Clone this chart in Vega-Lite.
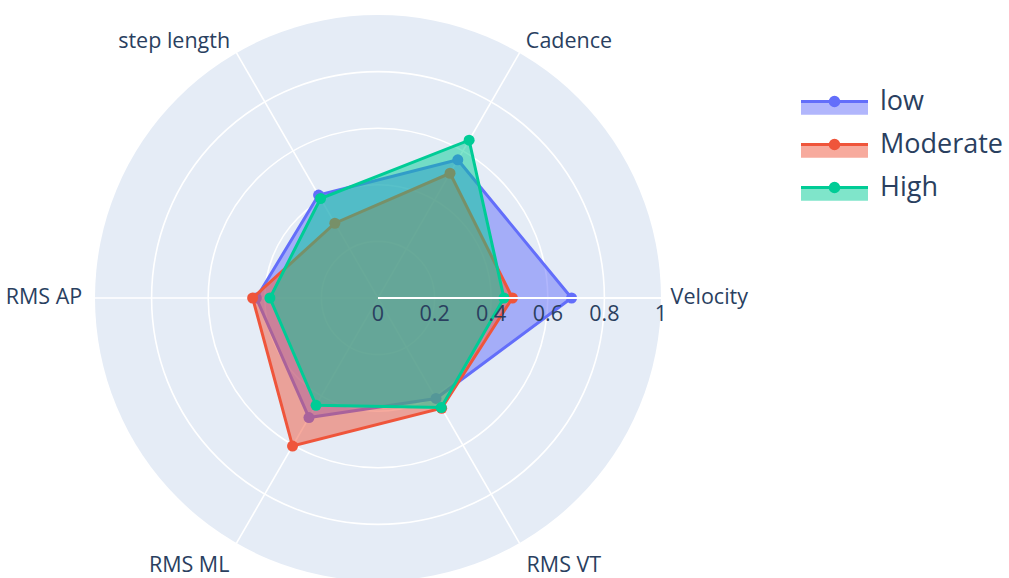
{
"$schema": "https://vega.github.io/schema/vega-lite/v6.json",
"width": 1009, "height": 578, "autosize": {"type": "none"}, "padding": 0,
"background": "white",
"config": {"view": {"stroke": null}, "font": "Open Sans"},
"datasets": {
 "series": [
  {"level": "low", "axis": "Velocity", "idx": 0, "value": 0.684},
  {"level": "low", "axis": "Cadence", "idx": 1, "value": 0.564},
  {"level": "low", "axis": "step length", "idx": 2, "value": 0.42},
  {"level": "low", "axis": "RMS AP", "idx": 3, "value": 0.43},
  {"level": "low", "axis": "RMS ML", "idx": 4, "value": 0.488},
  {"level": "low", "axis": "RMS VT", "idx": 5, "value": 0.41},
  {"level": "Moderate", "axis": "Velocity", "idx": 0, "value": 0.475},
  {"level": "Moderate", "axis": "Cadence", "idx": 1, "value": 0.509},
  {"level": "Moderate", "axis": "step length", "idx": 2, "value": 0.305},
  {"level": "Moderate", "axis": "RMS AP", "idx": 3, "value": 0.443},
  {"level": "Moderate", "axis": "RMS ML", "idx": 4, "value": 0.604},
  {"level": "Moderate", "axis": "RMS VT", "idx": 5, "value": 0.45},
  {"level": "High", "axis": "Velocity", "idx": 0, "value": 0.445},
  {"level": "High", "axis": "Cadence", "idx": 1, "value": 0.644},
  {"level": "High", "axis": "step length", "idx": 2, "value": 0.406},
  {"level": "High", "axis": "RMS AP", "idx": 3, "value": 0.382},
  {"level": "High", "axis": "RMS ML", "idx": 4, "value": 0.438},
  {"level": "High", "axis": "RMS VT", "idx": 5, "value": 0.447}
 ],
 "axes": [
  {"axis": "Velocity", "idx": 0}, {"axis": "Cadence", "idx": 1}, {"axis": "step length", "idx": 2},
  {"axis": "RMS AP", "idx": 3}, {"axis": "RMS ML", "idx": 4}, {"axis": "RMS VT", "idx": 5}
 ],
 "rings": [{"r": 0.2}, {"r": 0.4}, {"r": 0.6}, {"r": 0.8}],
 "disk": [{"r": 1}],
 "ticks": [{"t": 0}, {"t": 0.2}, {"t": 0.4}, {"t": 0.6}, {"t": 0.8}, {"t": 1}]
},
"layer": [
 {"data": {"name": "disk"},
  "mark": {"type": "point", "shape": "circle", "filled": true, "fill": "#E5ECF6", "opacity": 1, "strokeWidth": 0},
  "encoding": {
   "x": {"datum": 0, "type": "quantitative", "scale": {"domain": [-1.3357, 2.2297], "nice": false, "zero": false}, "axis": null},
   "y": {"datum": 0, "type": "quantitative", "scale": {"domain": [-0.9894, 1.053], "nice": false, "zero": false}, "axis": null},
   "size": {"field": "r", "type": "quantitative", "scale": {"type": "pow", "exponent": 2, "domain": [0, 1], "range": [0, 320356]}, "legend": null}
  }},
 {"data": {"name": "rings"},
  "mark": {"type": "point", "shape": "circle", "filled": false, "stroke": "white", "strokeWidth": 1.6, "opacity": 1},
  "encoding": {
   "x": {"datum": 0, "type": "quantitative", "scale": {"domain": [-1.3357, 2.2297], "nice": false, "zero": false}, "axis": null},
   "y": {"datum": 0, "type": "quantitative", "scale": {"domain": [-0.9894, 1.053], "nice": false, "zero": false}, "axis": null},
   "size": {"field": "r", "type": "quantitative", "scale": {"type": "pow", "exponent": 2, "domain": [0, 1], "range": [0, 320356]}, "legend": null}
  }},
 {"data": {"name": "axes"},
  "transform": [{"calculate": "cos(datum.idx*PI/3)", "as": "ex"}, {"calculate": "sin(datum.idx*PI/3)", "as": "ey"}],
  "mark": {"type": "rule", "stroke": "white", "strokeWidth": 1.6},
  "encoding": {
   "x": {"field": "ex", "type": "quantitative", "scale": {"domain": [-1.3357, 2.2297], "nice": false, "zero": false}, "axis": null},
   "y": {"field": "ey", "type": "quantitative", "scale": {"domain": [-0.9894, 1.053], "nice": false, "zero": false}, "axis": null},
   "x2": {"datum": 0}, "y2": {"datum": 0}
  }},
 {"data": {"name": "axes"},
  "transform": [{"filter": "datum.idx <= 1"}, {"calculate": "datum.idx == 0 ? 1.034 : 1.045", "as": "lr"}, {"calculate": "datum.lr*cos(datum.idx*PI/3)", "as": "lx"}, {"calculate": "datum.lr*sin(datum.idx*PI/3)", "as": "ly"}],
  "mark": {"type": "text", "align": "left", "baseline": "middle", "fontSize": 21.5, "color": "#2a3f5f", "font": "Open Sans"},
  "encoding": {
   "x": {"field": "lx", "type": "quantitative", "scale": {"domain": [-1.3357, 2.2297], "nice": false, "zero": false}, "axis": null},
   "y": {"field": "ly", "type": "quantitative", "scale": {"domain": [-0.9894, 1.053], "nice": false, "zero": false}, "axis": null},
   "text": {"field": "axis", "type": "nominal"}
  }},
 {"data": {"name": "axes"},
  "transform": [{"filter": "datum.idx == 2 || datum.idx == 3"}, {"calculate": "1.045*cos(datum.idx*PI/3)", "as": "lx"}, {"calculate": "1.045*sin(datum.idx*PI/3)", "as": "ly"}],
  "mark": {"type": "text", "align": "right", "baseline": "middle", "fontSize": 21.5, "color": "#2a3f5f", "font": "Open Sans"},
  "encoding": {
   "x": {"field": "lx", "type": "quantitative", "scale": {"domain": [-1.3357, 2.2297], "nice": false, "zero": false}, "axis": null},
   "y": {"field": "ly", "type": "quantitative", "scale": {"domain": [-0.9894, 1.053], "nice": false, "zero": false}, "axis": null},
   "text": {"field": "axis", "type": "nominal"}
  }},
 {"data": {"name": "axes"},
  "transform": [{"filter": "datum.idx == 4"}, {"calculate": "1.05*cos(datum.idx*PI/3)", "as": "lx"}, {"calculate": "1.05*sin(datum.idx*PI/3)", "as": "ly"}],
  "mark": {"type": "text", "align": "right", "baseline": "top", "fontSize": 21.5, "color": "#2a3f5f", "font": "Open Sans"},
  "encoding": {
   "x": {"field": "lx", "type": "quantitative", "scale": {"domain": [-1.3357, 2.2297], "nice": false, "zero": false}, "axis": null},
   "y": {"field": "ly", "type": "quantitative", "scale": {"domain": [-0.9894, 1.053], "nice": false, "zero": false}, "axis": null},
   "text": {"field": "axis", "type": "nominal"}
  }},
 {"data": {"name": "axes"},
  "transform": [{"filter": "datum.idx == 5"}, {"calculate": "1.05*cos(datum.idx*PI/3)", "as": "lx"}, {"calculate": "1.05*sin(datum.idx*PI/3)", "as": "ly"}],
  "mark": {"type": "text", "align": "left", "baseline": "top", "fontSize": 21.5, "color": "#2a3f5f", "font": "Open Sans"},
  "encoding": {
   "x": {"field": "lx", "type": "quantitative", "scale": {"domain": [-1.3357, 2.2297], "nice": false, "zero": false}, "axis": null},
   "y": {"field": "ly", "type": "quantitative", "scale": {"domain": [-0.9894, 1.053], "nice": false, "zero": false}, "axis": null},
   "text": {"field": "axis", "type": "nominal"}
  }},
 {"data": {"name": "series"},
  "transform": [{"filter": "datum.level == 'low'"}, {"calculate": "datum.value*cos(datum.idx*PI/3)", "as": "px"}, {"calculate": "datum.value*sin(datum.idx*PI/3)", "as": "py"}],
  "mark": {"type": "line", "interpolate": "linear-closed", "strokeWidth": 3},
  "encoding": {
   "x": {"field": "px", "type": "quantitative", "scale": {"domain": [-1.3357, 2.2297], "nice": false, "zero": false}, "axis": null},
   "y": {"field": "py", "type": "quantitative", "scale": {"domain": [-0.9894, 1.053], "nice": false, "zero": false}, "axis": null},
   "order": {"field": "idx", "type": "quantitative"},
   "fill": {"field": "level", "type": "nominal", "scale": {"domain": ["low", "Moderate", "High"], "range": ["rgba(99,110,250,0.5)", "rgba(239,85,59,0.5)", "rgba(0,204,150,0.5)"]},
     "legend": {"title": null, "orient": "none", "legendX": 818, "legendY": 85, "direction": "vertical", "symbolType": "M-2.233,0H2.233V0.887H-2.233Z", "symbolSize": 900, "symbolStrokeColor": "transparent", "symbolStrokeWidth": 3, "labelFontSize": 27, "labelColor": "#2a3f5f", "labelFont": "Open Sans", "labelOffset": 29, "labelExpr": "''", "rowPadding": 7, "padding": 0}},
   "stroke": {"field": "level", "type": "nominal", "sort": ["low", "Moderate", "High"], "scale": {"range": ["#636EFA", "#EF553B", "#00CC96"]},
     "legend": {"title": null, "orient": "none", "legendX": 818, "legendY": 85, "direction": "vertical", "symbolType": "M-2.233,0.887M-2.233,0H2.233M0.287,0A0.287,0.287,0,1,1,-0.287,0A0.287,0.287,0,1,1,0.287,0M0.1,0A0.1,0.1,0,1,1,-0.1,0A0.1,0.1,0,1,1,0.1,0", "symbolSize": 900, "symbolStrokeWidth": 3, "symbolOpacity": 1, "labelFontSize": 27, "labelColor": "#2a3f5f", "labelFont": "Open Sans", "labelOffset": 29, "rowPadding": 7, "padding": 0}}
  }},
 {"data": {"name": "series"},
  "transform": [{"filter": "datum.level == 'low'"}, {"calculate": "datum.value*cos(datum.idx*PI/3)", "as": "px"}, {"calculate": "datum.value*sin(datum.idx*PI/3)", "as": "py"}],
  "mark": {"type": "point", "shape": "circle", "filled": true, "opacity": 1, "size": 121, "strokeWidth": 0},
  "encoding": {
   "x": {"field": "px", "type": "quantitative", "scale": {"domain": [-1.3357, 2.2297], "nice": false, "zero": false}, "axis": null},
   "y": {"field": "py", "type": "quantitative", "scale": {"domain": [-0.9894, 1.053], "nice": false, "zero": false}, "axis": null},
   "color": {"field": "level", "type": "nominal", "scale": {"domain": ["low", "Moderate", "High"], "range": ["#636EFA", "#EF553B", "#00CC96"]}, "legend": null}
  }},
 {"data": {"name": "series"},
  "transform": [{"filter": "datum.level == 'Moderate'"}, {"calculate": "datum.value*cos(datum.idx*PI/3)", "as": "px"}, {"calculate": "datum.value*sin(datum.idx*PI/3)", "as": "py"}],
  "mark": {"type": "line", "interpolate": "linear-closed", "strokeWidth": 3},
  "encoding": {
   "x": {"field": "px", "type": "quantitative", "scale": {"domain": [-1.3357, 2.2297], "nice": false, "zero": false}, "axis": null},
   "y": {"field": "py", "type": "quantitative", "scale": {"domain": [-0.9894, 1.053], "nice": false, "zero": false}, "axis": null},
   "order": {"field": "idx", "type": "quantitative"},
   "fill": {"field": "level", "type": "nominal", "scale": {"domain": ["low", "Moderate", "High"], "range": ["rgba(99,110,250,0.5)", "rgba(239,85,59,0.5)", "rgba(0,204,150,0.5)"]}},
   "stroke": {"field": "level", "type": "nominal", "sort": ["low", "Moderate", "High"], "scale": {"range": ["#636EFA", "#EF553B", "#00CC96"]}}
  }},
 {"data": {"name": "series"},
  "transform": [{"filter": "datum.level == 'Moderate'"}, {"calculate": "datum.value*cos(datum.idx*PI/3)", "as": "px"}, {"calculate": "datum.value*sin(datum.idx*PI/3)", "as": "py"}],
  "mark": {"type": "point", "shape": "circle", "filled": true, "opacity": 1, "size": 121, "strokeWidth": 0},
  "encoding": {
   "x": {"field": "px", "type": "quantitative", "scale": {"domain": [-1.3357, 2.2297], "nice": false, "zero": false}, "axis": null},
   "y": {"field": "py", "type": "quantitative", "scale": {"domain": [-0.9894, 1.053], "nice": false, "zero": false}, "axis": null},
   "color": {"field": "level", "type": "nominal", "scale": {"domain": ["low", "Moderate", "High"], "range": ["#636EFA", "#EF553B", "#00CC96"]}, "legend": null}
  }},
 {"data": {"name": "series"},
  "transform": [{"filter": "datum.level == 'High'"}, {"calculate": "datum.value*cos(datum.idx*PI/3)", "as": "px"}, {"calculate": "datum.value*sin(datum.idx*PI/3)", "as": "py"}],
  "mark": {"type": "line", "interpolate": "linear-closed", "strokeWidth": 3},
  "encoding": {
   "x": {"field": "px", "type": "quantitative", "scale": {"domain": [-1.3357, 2.2297], "nice": false, "zero": false}, "axis": null},
   "y": {"field": "py", "type": "quantitative", "scale": {"domain": [-0.9894, 1.053], "nice": false, "zero": false}, "axis": null},
   "order": {"field": "idx", "type": "quantitative"},
   "fill": {"field": "level", "type": "nominal", "scale": {"domain": ["low", "Moderate", "High"], "range": ["rgba(99,110,250,0.5)", "rgba(239,85,59,0.5)", "rgba(0,204,150,0.5)"]}},
   "stroke": {"field": "level", "type": "nominal", "sort": ["low", "Moderate", "High"], "scale": {"range": ["#636EFA", "#EF553B", "#00CC96"]}}
  }},
 {"data": {"name": "series"},
  "transform": [{"filter": "datum.level == 'High'"}, {"calculate": "datum.value*cos(datum.idx*PI/3)", "as": "px"}, {"calculate": "datum.value*sin(datum.idx*PI/3)", "as": "py"}],
  "mark": {"type": "point", "shape": "circle", "filled": true, "opacity": 1, "size": 121, "strokeWidth": 0},
  "encoding": {
   "x": {"field": "px", "type": "quantitative", "scale": {"domain": [-1.3357, 2.2297], "nice": false, "zero": false}, "axis": null},
   "y": {"field": "py", "type": "quantitative", "scale": {"domain": [-0.9894, 1.053], "nice": false, "zero": false}, "axis": null},
   "color": {"field": "level", "type": "nominal", "scale": {"domain": ["low", "Moderate", "High"], "range": ["#636EFA", "#EF553B", "#00CC96"]}, "legend": null}
  }},
 {"data": {"name": "disk"},
  "mark": {"type": "rule", "stroke": "white", "strokeWidth": 1.8},
  "encoding": {
   "x": {"field": "r", "type": "quantitative", "scale": {"domain": [-1.3357, 2.2297], "nice": false, "zero": false}, "axis": null},
   "x2": {"datum": 0},
   "y": {"datum": 0, "type": "quantitative", "scale": {"domain": [-0.9894, 1.053], "nice": false, "zero": false}, "axis": null}
  }},
 {"data": {"name": "ticks"},
  "mark": {"type": "text", "align": "center", "baseline": "middle", "dy": 17, "fontSize": 21.5, "color": "#2a3f5f", "font": "Open Sans"},
  "encoding": {
   "x": {"field": "t", "type": "quantitative", "scale": {"domain": [-1.3357, 2.2297], "nice": false, "zero": false}, "axis": null},
   "y": {"datum": 0, "type": "quantitative", "scale": {"domain": [-0.9894, 1.053], "nice": false, "zero": false}, "axis": null},
   "text": {"field": "t", "type": "quantitative", "format": "~g"}
  }}
]
}
